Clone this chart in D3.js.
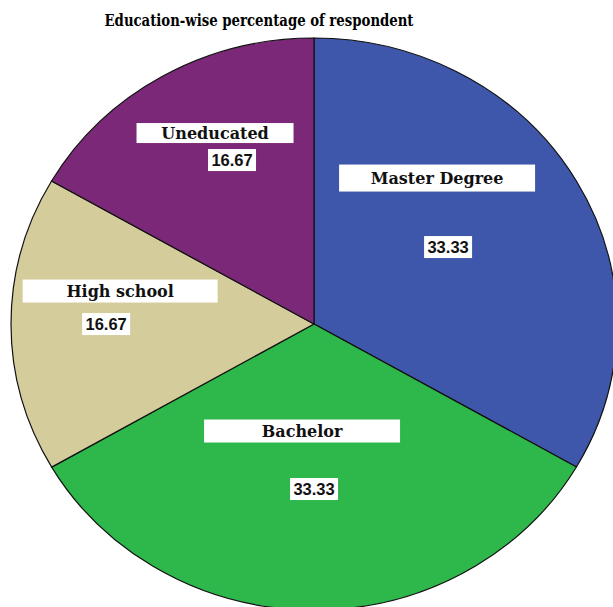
<!DOCTYPE html>
<html>
<head>
<meta charset="utf-8">
<script src="https://cdn.jsdelivr.net/npm/d3@7"></script>
<style>
  body { margin: 0; background: #fff; }
  svg { display: block; }
</style>
</head>
<body>
<div id="chart"></div>
<script>
// data
var categories = ["Master Degree", "Bachelor", "High school", "Uneducated"]
var percents = [33.33, 33.33, 16.67, 16.67]
var colours = ["#3e57aa", "#2eb84b", "#d4cc9b", "#7a2877"]
var title = "Education-wise percentage of respondent"

// label placement (fraction of radius along the mid angle, name box offset)
var labelLayout = [
	{kx: 0.511, ky: 0.538, dx: -11, dy: -69, w: 196, h: 27},
	{kx: 0.58, ky: 0.577, dx: -12, dy: -58, w: 196, h: 23},
	{kx: 0.686, ky: 0.6, dx: 14, dy: -33, w: 195, h: 23},
	{kx: 0.541, ky: 0.662, dx: -17, dy: -27, w: 157, h: 20}
]

var width = 613, height = 607
var cx = 314, cy = 324, rx = 303, ry = 286

var svg = d3.select("#chart").append("svg")
	.attr("width", width)
	.attr("height", height)

svg.append("text")
	.attr("x", 259)
	.attr("y", 26)
	.attr("text-anchor", "middle")
	.attr("textLength", 309)
	.attr("lengthAdjust", "spacingAndGlyphs")
	.style("font-family", "'DejaVu Serif', serif")
	.style("font-weight", "bold")
	.style("font-size", "16px")
	.attr("fill", "#000")
	.text(title)

var pie = d3.pie().sort(null).value(function(d){ return d })
var arcs = pie(percents)

var arc = d3.arc().innerRadius(0).outerRadius(ry)

var g = svg.append("g")
	.attr("transform", "translate(" + cx + "," + cy + ") scale(" + (rx / ry) + ",1)")

g.selectAll("path")
	.data(arcs)
	.enter().append("path")
	.attr("d", arc)
	.attr("fill", function(d, i){ return colours[i] })
	.attr("stroke", "#111")
	.attr("stroke-width", 1.2)
	.attr("vector-effect", "non-scaling-stroke")

var labels = svg.selectAll("g.label")
	.data(arcs)
	.enter().append("g")
	.attr("class", "label")
	.attr("transform", function(d, i){
		var a = (d.startAngle + d.endAngle) / 2
		var L = labelLayout[i]
		var x = cx + rx * L.kx * Math.sin(a)
		var y = cy - ry * L.ky * Math.cos(a)
		return "translate(" + x + "," + y + ")"
	})

// name boxes
labels.append("rect")
	.attr("x", function(d, i){ return labelLayout[i].dx - labelLayout[i].w / 2 })
	.attr("y", function(d, i){ return labelLayout[i].dy - labelLayout[i].h / 2 })
	.attr("width", function(d, i){ return labelLayout[i].w })
	.attr("height", function(d, i){ return labelLayout[i].h })
	.attr("fill", "#fff")

labels.append("text")
	.attr("x", function(d, i){ return labelLayout[i].dx })
	.attr("y", function(d, i){ return labelLayout[i].dy + 6 })
	.attr("text-anchor", "middle")
	.style("font-family", "'DejaVu Serif', serif")
	.style("font-weight", "bold")
	.style("font-size", "16px")
	.attr("fill", "#111")
	.text(function(d, i){ return categories[i] })

// value boxes
labels.append("rect")
	.attr("x", -24)
	.attr("y", -11)
	.attr("width", 48)
	.attr("height", 22)
	.attr("fill", "#fff")

labels.append("text")
	.attr("x", 0)
	.attr("y", 6)
	.attr("text-anchor", "middle")
	.style("font-family", "'Liberation Sans', Arial, sans-serif")
	.style("font-weight", "bold")
	.style("font-size", "16.5px")
	.attr("fill", "#111")
	.text(function(d){ return d.data.toFixed(2) })
</script>
</body>
</html>
